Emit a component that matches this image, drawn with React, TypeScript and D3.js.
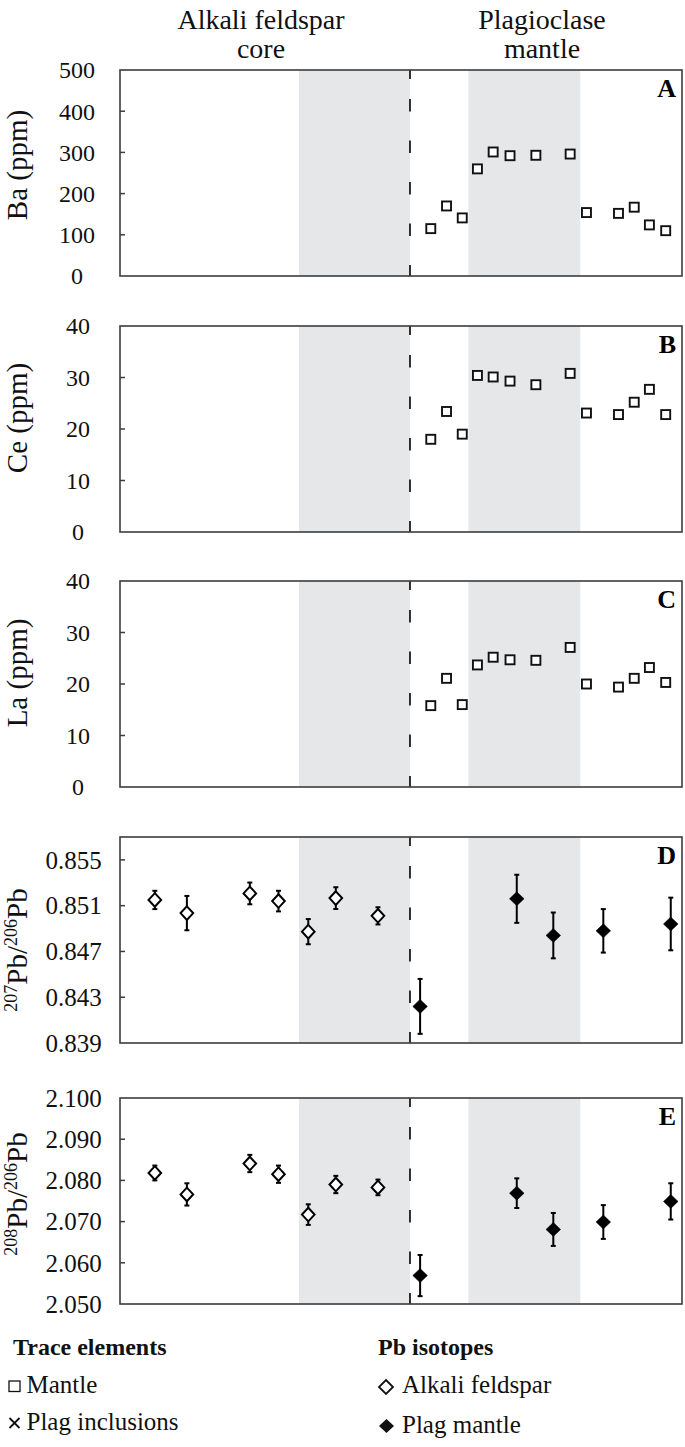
import React from "react";
import * as d3 from "d3";

// ---------- data ----------
const headerLeft = ["Alkali feldspar", "core"];
const headerRight = ["Plagioclase", "mantle"];
const panelLetters = ["A", "B", "C", "D", "E"];

// relative position across the crystal (0-100)
const shadeBands: [number, number][] = [
  [31.85, 51.6],
  [62.0, 81.9],
];
const boundaryX = 51.6;

const mantleX = [55.3, 58.1, 60.9, 63.6, 66.4, 69.4, 74.0, 80.1, 83.0, 88.7, 91.5, 94.2, 97.1];
const baValues = [115, 170, 141, 260, 301, 292, 293, 296, 154, 152, 167, 124, 110];
const ceValues = [18.0, 23.4, 19.0, 30.4, 30.1, 29.3, 28.6, 30.8, 23.1, 22.8, 25.2, 27.7, 22.8];
const laValues = [15.8, 21.1, 16.0, 23.7, 25.2, 24.7, 24.6, 27.1, 20.0, 19.4, 21.1, 23.2, 20.3];

const afX = [6.2, 11.9, 23.1, 28.2, 33.5, 38.4, 45.9];
const pb207Af = [0.8515, 0.85035, 0.85207, 0.8514, 0.84873, 0.85166, 0.85011];
const pb207AfErr = [0.0008, 0.0015, 0.00095, 0.0009, 0.0011, 0.00095, 0.00075];
const pb208Af = [2.0818, 2.0766, 2.0841, 2.0815, 2.0717, 2.079, 2.0783];
const pb208AfErr = [0.0018, 0.0027, 0.0021, 0.0021, 0.0025, 0.0021, 0.0019];

const plX = [53.4, 70.6, 77.1, 86.0, 98.0];
const pb207Pl = [0.8422, 0.8516, 0.8484, 0.8488, 0.8494];
const pb207PlErr = [0.0024, 0.0021, 0.002, 0.0019, 0.0023];
const pb208Pl = [2.0569, 2.0769, 2.0681, 2.0699, 2.0749];
const pb208PlErr = [0.005, 0.0036, 0.004, 0.0041, 0.0044];

const baTicks = [0, 100, 200, 300, 400, 500];
const ceTicks = [0, 10, 20, 30, 40];
const laTicks = [0, 10, 20, 30, 40];
const pb207Ticks = [0.839, 0.843, 0.847, 0.851, 0.855];
const pb208Ticks = [2.05, 2.06, 2.07, 2.08, 2.09, 2.1];

const legendTraceTitle = "Trace elements";
const legendTraceItems = ["Mantle", "Plag inclusions"];
const legendPbTitle = "Pb isotopes";
const legendPbItems = ["Alkali feldspar", "Plag mantle"];

// ---------- layout ----------
const W = 685;
const H = 1447;
const plotLeft = 120;
const plotRight = 682;
const panelTops = [70, 326, 581, 837, 1098];
const panelH = 206;
const FONT = "Liberation Serif, Tinos, Times New Roman, DejaVu Serif, serif";
const BAND = "#e6e7e9";
const FRAME = "#3c3c3c";

const x = d3.scaleLinear().domain([0, 100]).range([plotLeft, plotRight]);

type PanelCfg = {
  domain: [number, number];
  ticks: number[];
  fmt: (v: number) => string;
  labelX: number;
  tickFont: number;
  titleY: number;
};

const panels: PanelCfg[] = [
  { domain: [0, 500], ticks: baTicks, fmt: d3.format("d"), labelX: 77, tickFont: 24, titleY: 165 },
  { domain: [0, 40], ticks: ceTicks, fmt: d3.format("d"), labelX: 78, tickFont: 24, titleY: 418 },
  { domain: [0, 40], ticks: laTicks, fmt: d3.format("d"), labelX: 78, tickFont: 24, titleY: 673 },
  { domain: [0.839, 0.857], ticks: pb207Ticks, fmt: d3.format(".3f"), labelX: 73.5, tickFont: 25, titleY: 950 },
  { domain: [2.05, 2.1], ticks: pb208Ticks, fmt: d3.format(".3f"), labelX: 73.5, tickFont: 25, titleY: 1194 },
];

function yScale(i: number) {
  const p = panels[i];
  return d3.scaleLinear().domain(p.domain).range([panelTops[i] + panelH, panelTops[i]]);
}

const Square = ({ cx, cy, s = 9, sw = 1.9 }: { cx: number; cy: number; s?: number; sw?: number }) => (
  <rect x={cx - s / 2} y={cy - s / 2} width={s} height={s} fill="#fff" stroke="#111" strokeWidth={sw} />
);

const Diamond = ({ cx, cy, filled, rx, ry, sw }: { cx: number; cy: number; filled: boolean; rx: number; ry: number; sw: number }) => (
  <path
    d={`M${cx},${cy - ry}L${cx + rx},${cy}L${cx},${cy + ry}L${cx - rx},${cy}Z`}
    fill={filled ? "#000" : "#fff"}
    stroke="#000"
    strokeWidth={sw}
    strokeLinejoin="miter"
  />
);

const ErrBar = ({ cx, y1, y2 }: { cx: number; y1: number; y2: number }) => (
  <g stroke="#000" strokeWidth={2}>
    <line x1={cx} x2={cx} y1={y1} y2={y2} />
    <line x1={cx - 2.5} x2={cx + 2.5} y1={y1} y2={y1} />
    <line x1={cx - 2.5} x2={cx + 2.5} y1={y2} y2={y2} />
  </g>
);

const txt = (size: number, weight: string = "normal") => ({
  style: { fontFamily: FONT, fontSize: `${size}px`, fontWeight: weight as any },
});

function AxisTitle({ i }: { i: number }) {
  const cy = panels[i].titleY;
  const tx = 27;
  const common = {
    transform: `translate(${tx},${cy}) rotate(-90)`,
    textAnchor: "middle" as const,
    fill: "#111",
  };
  if (i === 0) return <text {...common} {...txt(29)}>Ba (ppm)</text>;
  if (i === 1) return <text {...common} {...txt(29)}>Ce (ppm)</text>;
  if (i === 2) return <text {...common} {...txt(29)}>La (ppm)</text>;
  const a = i === 3 ? "207" : "208";
  return (
    <text {...common} {...txt(29)}>
      <tspan style={{ fontSize: "18px" }} dy={-10}>{a}</tspan>
      <tspan dy={10}>Pb/</tspan>
      <tspan style={{ fontSize: "18px" }} dy={-10}>206</tspan>
      <tspan dy={10}>Pb</tspan>
    </text>
  );
}

function Panel({ i }: { i: number }) {
  const p = panels[i];
  const y = yScale(i);
  const top = panelTops[i];
  const bottom = top + panelH;
  return (
    <g>
      {shadeBands.map(([a, b], k) => (
        <rect key={k} x={x(a)} y={top} width={x(b) - x(a)} height={panelH} fill={BAND} />
      ))}
      <line
        x1={x(boundaryX)}
        x2={x(boundaryX)}
        y1={top}
        y2={bottom}
        stroke="#000"
        strokeWidth={1.6}
        strokeDasharray="9 20 12.5 29 12.5 29 12.5 29 12.5 29 12.5 29"
      />
      {p.ticks.map((t) => (
        <g key={t}>
          {y(t) > top + 1 && y(t) < bottom - 1 && (
            <line x1={plotLeft} x2={plotLeft + 5} y1={y(t)} y2={y(t)} stroke={FRAME} strokeWidth={1.5} />
          )}
          <text x={p.labelX} y={y(t)} dy="0.35em" textAnchor="middle" fill="#111" {...txt(p.tickFont)}>
            {p.fmt(t)}
          </text>
        </g>
      ))}
      {i === 0 && mantleX.map((mx, k) => <Square key={k} cx={x(mx)} cy={y(baValues[k])} />)}
      {i === 1 && mantleX.map((mx, k) => <Square key={k} cx={x(mx)} cy={y(ceValues[k])} />)}
      {i === 2 && mantleX.map((mx, k) => <Square key={k} cx={x(mx)} cy={y(laValues[k])} />)}
      {(i === 3 || i === 4) && (
        <g>
          {afX.map((ax, k) => {
            const v = i === 3 ? pb207Af[k] : pb208Af[k];
            const e = i === 3 ? pb207AfErr[k] : pb208AfErr[k];
            return (
              <g key={"af" + k}>
                <ErrBar cx={x(ax)} y1={y(v + e)} y2={y(v - e)} />
                <Diamond cx={x(ax)} cy={y(v)} filled={false} rx={6.3} ry={6.8} sw={2} />
              </g>
            );
          })}
          {plX.map((px, k) => {
            const v = i === 3 ? pb207Pl[k] : pb208Pl[k];
            const e = i === 3 ? pb207PlErr[k] : pb208PlErr[k];
            return (
              <g key={"pl" + k}>
                <ErrBar cx={x(px)} y1={y(v + e)} y2={y(v - e)} />
                <Diamond cx={x(px)} cy={y(v)} filled={true} rx={7.3} ry={7} sw={0.5} />
              </g>
            );
          })}
        </g>
      )}
      <rect x={plotLeft} y={top} width={plotRight - plotLeft} height={panelH} fill="none" stroke={FRAME} strokeWidth={1.6} />
      <text x={plotRight - 6} y={top + 27} textAnchor="end" fill="#000" {...txt(26, "bold")}>
        {panelLetters[i]}
      </text>
      <AxisTitle i={i} />
    </g>
  );
}

export default function App() {
  return (
    <svg
      width={W}
      height={H}
      viewBox={`0 0 ${W} ${H}`}
      style={{ position: "absolute", left: 0, top: 0, background: "#fff" }}
    >
      <rect x={0} y={0} width={W} height={H} fill="#fff" />
      {headerLeft.map((t, k) => (
        <text key={t} x={261} y={29 + k * 29} textAnchor="middle" fill="#111" {...txt(28)}>
          {t}
        </text>
      ))}
      {headerRight.map((t, k) => (
        <text key={t} x={542} y={29 + k * 29} textAnchor="middle" fill="#111" {...txt(28)}>
          {t}
        </text>
      ))}
      {panels.map((_, i) => (
        <Panel key={i} i={i} />
      ))}

      {/* legend */}
      <g fill="#111">
        <text x={13} y={1355} {...txt(24, "bold")}>{legendTraceTitle}</text>
        <rect x={9} y={1381} width={11} height={10.5} fill="#fff" stroke="#111" strokeWidth={1.3} />
        <text x={26.5} y={1393} {...txt(25)}>{legendTraceItems[0]}</text>
        <g stroke="#111" strokeWidth={1.8}>
          <line x1={9.5} x2={19.5} y1={1418} y2={1428} />
          <line x1={9.5} x2={19.5} y1={1428} y2={1418} />
        </g>
        <text x={26.5} y={1430} {...txt(25)}>{legendTraceItems[1]}</text>

        <text x={378} y={1355} {...txt(24, "bold")}>{legendPbTitle}</text>
        <path d="M386,1380L393,1387L386,1394L379,1387Z" fill="#fff" stroke="#111" strokeWidth={1.8} />
        <text x={402} y={1393} {...txt(25)}>{legendPbItems[0]}</text>
        <path d="M386.5,1419L394,1426L386.5,1433L379,1426Z" fill="#111" />
        <text x={402} y={1433} {...txt(25)}>{legendPbItems[1]}</text>
      </g>
    </svg>
  );
}
